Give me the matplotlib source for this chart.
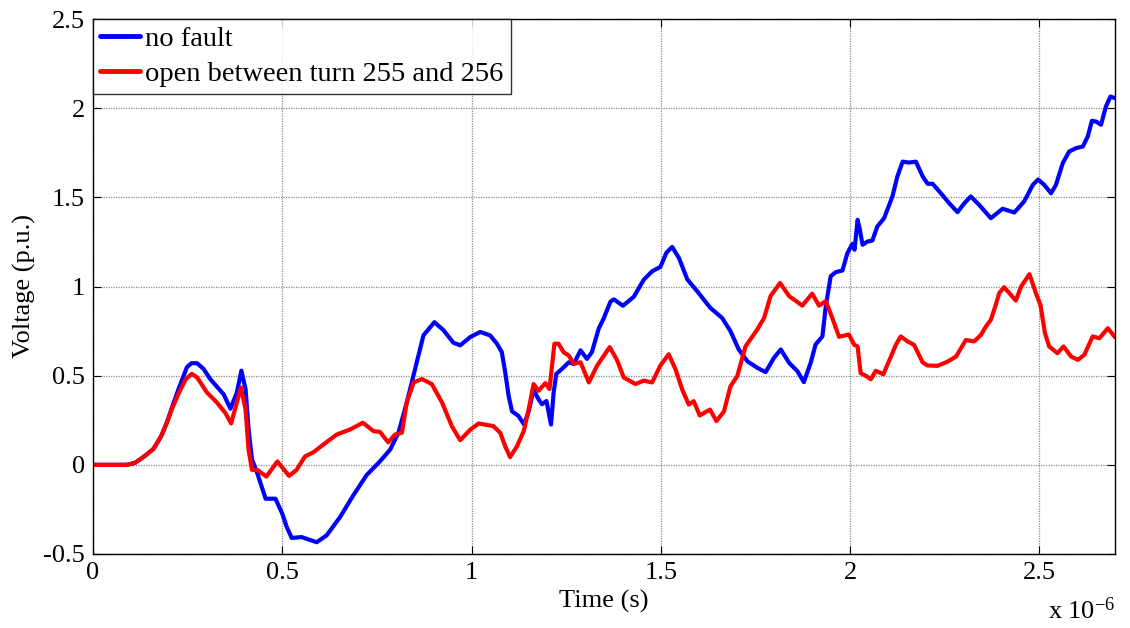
import matplotlib
matplotlib.use("Agg")
import matplotlib.pyplot as plt
import numpy as np

# time in microseconds (axis shown x 10^-6 s)
t_blue = [0, 0.089, 0.11, 0.124, 0.14, 0.16, 0.18, 0.195, 0.21, 0.226, 0.248, 0.26, 0.275,
          0.292, 0.31, 0.345, 0.363, 0.38, 0.392, 0.403, 0.411, 0.42, 0.434, 0.456, 0.482,
          0.5, 0.512, 0.525, 0.551, 0.591, 0.617, 0.653, 0.688, 0.723, 0.758, 0.785, 0.807,
          0.829, 0.851, 0.873, 0.902, 0.926, 0.952, 0.97, 0.997, 1.023, 1.049, 1.067, 1.08,
          1.089, 1.098, 1.107, 1.124, 1.139, 1.151, 1.164, 1.177, 1.186, 1.198, 1.21, 1.217,
          1.224, 1.239, 1.257, 1.27, 1.288, 1.305, 1.318, 1.336, 1.349, 1.367, 1.376, 1.4,
          1.429, 1.455, 1.477, 1.499, 1.515, 1.53, 1.548, 1.57, 1.596, 1.631, 1.662, 1.684,
          1.706, 1.729, 1.755, 1.777, 1.799, 1.817, 1.839, 1.861, 1.878, 1.896, 1.909, 1.927,
          1.936, 1.949, 1.962, 1.98, 1.993, 2.006, 2.012, 2.02, 2.026, 2.033, 2.046, 2.059,
          2.072, 2.09, 2.112, 2.125, 2.139, 2.156, 2.174, 2.192, 2.205, 2.218, 2.24, 2.262,
          2.284, 2.302, 2.319, 2.341, 2.372, 2.403, 2.434, 2.46, 2.483, 2.497, 2.513, 2.531,
          2.544, 2.562, 2.579, 2.597, 2.615, 2.628, 2.639, 2.65, 2.663, 2.676, 2.688, 2.7]
v_blue = [0, 0, 0.01, 0.03, 0.055, 0.09, 0.16, 0.236, 0.33, 0.425, 0.547, 0.57, 0.57,
          0.538, 0.48, 0.396, 0.315, 0.405, 0.528, 0.425, 0.2, 0.03, -0.047, -0.19, -0.19,
          -0.274, -0.35, -0.41, -0.405, -0.434, -0.396, -0.292, -0.17, -0.057, 0.019, 0.085, 0.18,
          0.35, 0.538, 0.726, 0.80, 0.755, 0.685, 0.67, 0.717, 0.745, 0.726, 0.68, 0.632,
          0.519, 0.387, 0.30, 0.274, 0.226, 0.30, 0.42, 0.368, 0.34, 0.358, 0.226, 0.406,
          0.51, 0.538, 0.575, 0.566, 0.642, 0.594, 0.632, 0.764, 0.82, 0.915, 0.928, 0.892,
          0.943, 1.038, 1.085, 1.11, 1.19, 1.222, 1.16, 1.04, 0.974, 0.88, 0.824, 0.75,
          0.647, 0.58, 0.544, 0.52, 0.6, 0.647, 0.572, 0.525, 0.464, 0.572, 0.675, 0.72,
          0.89, 1.058, 1.08, 1.09, 1.187, 1.239, 1.206, 1.374, 1.318, 1.234, 1.252, 1.258,
          1.336, 1.383, 1.505, 1.617, 1.70, 1.695, 1.70, 1.617, 1.576, 1.576, 1.523, 1.467,
          1.417, 1.467, 1.505, 1.458, 1.383, 1.436, 1.415, 1.477, 1.57, 1.60, 1.57, 1.523,
          1.57, 1.692, 1.757, 1.776, 1.785, 1.841, 1.929, 1.925, 1.907, 2.009, 2.065, 2.056]

t_red = [0, 0.089, 0.11, 0.124, 0.14, 0.16, 0.18, 0.195, 0.21, 0.226, 0.245, 0.261, 0.275,
         0.301, 0.327, 0.35, 0.365, 0.38, 0.391, 0.403, 0.411, 0.42, 0.434, 0.458, 0.487,
         0.518, 0.538, 0.56, 0.582, 0.608, 0.644, 0.679, 0.713, 0.741, 0.758, 0.78, 0.798,
         0.816, 0.829, 0.847, 0.869, 0.895, 0.922, 0.948, 0.97, 0.997, 1.019, 1.058, 1.076,
         1.089, 1.102, 1.12, 1.138, 1.151, 1.164, 1.177, 1.195, 1.206, 1.219, 1.23, 1.243,
         1.257, 1.27, 1.288, 1.31, 1.332, 1.365, 1.385, 1.402, 1.433, 1.455, 1.477, 1.499,
         1.521, 1.539, 1.557, 1.574, 1.587, 1.603, 1.63, 1.647, 1.667, 1.684, 1.702, 1.724,
         1.755, 1.773, 1.79, 1.815, 1.839, 1.874, 1.9, 1.918, 1.936, 1.953, 1.971, 1.997,
         2.011, 2.02, 2.028, 2.041, 2.055, 2.068, 2.088, 2.108, 2.121, 2.134, 2.152, 2.169,
         2.192, 2.205, 2.231, 2.258, 2.28, 2.293, 2.306, 2.328, 2.346, 2.359, 2.372, 2.385,
         2.394, 2.407, 2.425, 2.438, 2.452, 2.474, 2.491, 2.503, 2.515, 2.526, 2.548, 2.564,
         2.584, 2.602, 2.619, 2.641, 2.659, 2.681, 2.7]
v_red = [0, 0, 0.01, 0.03, 0.055, 0.09, 0.16, 0.236, 0.32, 0.40, 0.48, 0.51, 0.49,
         0.406, 0.35, 0.29, 0.232, 0.35, 0.434, 0.31, 0.085, -0.028, -0.028, -0.066, 0.019,
         -0.062, -0.028, 0.047, 0.07, 0.113, 0.17, 0.198, 0.236, 0.189, 0.185, 0.126, 0.17,
         0.18, 0.35, 0.462, 0.481, 0.453, 0.35, 0.217, 0.138, 0.198, 0.232, 0.217, 0.179,
         0.104, 0.043, 0.104, 0.189, 0.311, 0.453, 0.415, 0.458, 0.425, 0.679, 0.679, 0.632,
         0.613, 0.566, 0.575, 0.462, 0.557, 0.66, 0.585, 0.49, 0.453, 0.472, 0.462, 0.557,
         0.62, 0.535, 0.42, 0.338, 0.357, 0.277, 0.31, 0.245, 0.3, 0.44, 0.497, 0.665,
         0.759, 0.824, 0.946, 1.02, 0.946, 0.893, 0.96, 0.893, 0.918, 0.824, 0.718, 0.731,
         0.673, 0.664, 0.514, 0.50, 0.48, 0.527, 0.508, 0.607, 0.673, 0.72, 0.692, 0.673,
         0.574, 0.557, 0.555, 0.579, 0.607, 0.654, 0.70, 0.692, 0.729, 0.776, 0.813, 0.897,
         0.963, 0.996, 0.953, 0.921, 1.0, 1.069, 0.963, 0.897, 0.738, 0.664, 0.626, 0.664,
         0.607, 0.589, 0.617, 0.72, 0.71, 0.766, 0.716]

x_ticks = [0, 0.5, 1, 1.5, 2, 2.5]
x_ticklabels = ["0", "0.5", "1", "1.5", "2", "2.5"]
y_ticks = [-0.5, 0, 0.5, 1, 1.5, 2, 2.5]
y_ticklabels = ["-0.5", "0", "0.5", "1", "1.5", "2", "2.5"]
labels = ["no fault", "open between turn 255 and 256"]

plt.rcParams['font.family'] = ['Liberation Serif', 'DejaVu Serif']
plt.rcParams['mathtext.fontset'] = 'custom'
plt.rcParams['mathtext.rm'] = 'Liberation Serif'
plt.rcParams['mathtext.default'] = 'regular'
FS = 19
LFS = 20.5

fig = plt.figure(figsize=(11.3, 6.28), dpi=100)
ax = fig.add_axes([93/1130, 74/628, 1022/1130, 535/628])

ax.plot(t_blue, v_blue, color='#0000FF', lw=3.0, label=labels[0],
        solid_joinstyle='round', solid_capstyle='round')
ax.plot(t_red, v_red, color='#FF0000', lw=3.0, label=labels[1],
        solid_joinstyle='round', solid_capstyle='round')

ax.set_xlim(0, 2.7)
ax.set_ylim(-0.5, 2.5)
ax.set_xticks(x_ticks)
ax.set_xticklabels(x_ticklabels)
ax.set_yticks(y_ticks)
ax.set_yticklabels(y_ticklabels)
ax.tick_params(direction='in', length=6, width=0.8, labelsize=FS,
               top=True, right=True, pad=6)
ax.grid(True, color='#8c8c8c', linestyle=(0, (1, 1)), linewidth=0.9)
for s in ax.spines.values():
    s.set_linewidth(1.0)
    s.set_color('black')

ax.set_xlabel("Time (s)", fontsize=FS, labelpad=4)
ax.set_ylabel("Voltage (p.u.)", fontsize=FS, labelpad=5)
ax.text(1.0, -0.082, r"x 10$^{-6}$", transform=ax.transAxes, ha='right', va='top', fontsize=FS)

leg = ax.legend(loc='upper left', fontsize=LFS, frameon=True, fancybox=False,
                borderaxespad=0, handlelength=1.4, handletextpad=0.18,
                labelspacing=0.3, borderpad=0.25)
leg.get_frame().set_edgecolor('black')
leg.get_frame().set_linewidth(1.0)
for line in leg.get_lines():
    line.set_linewidth(3.5)

fig.savefig("out.png", dpi=100)
